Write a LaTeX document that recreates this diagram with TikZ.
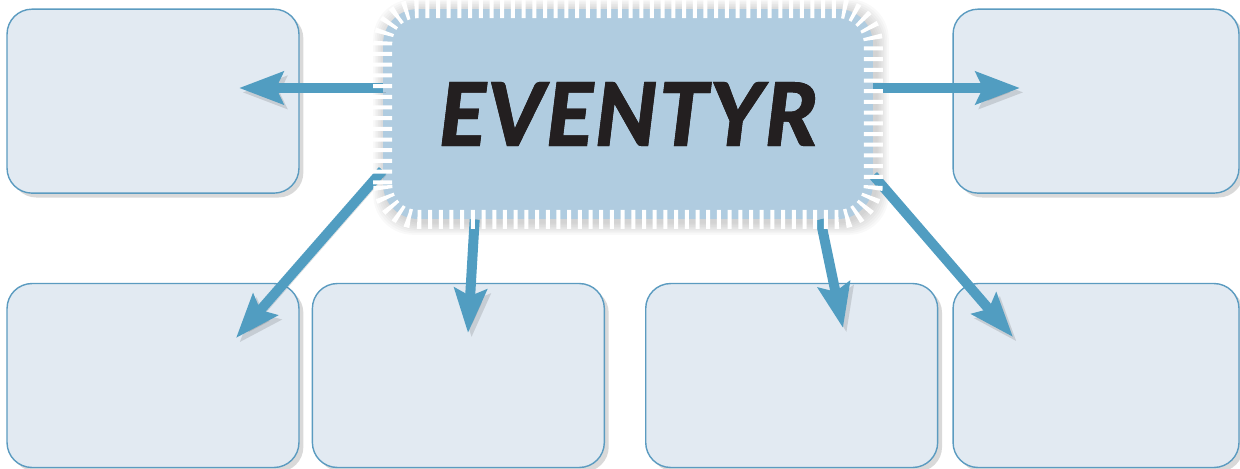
\documentclass[tikz,border=0pt]{standalone}
\usepackage{fontspec}
\newfontfamily\headfont{Lato}[BoldItalicFeatures={FakeBold=2.2, LetterSpace=3}]
\usetikzlibrary{positioning,arrows.meta,shadows,backgrounds}
\definecolor{cardBG}{HTML}{E2EAF2}
\definecolor{cardBorder}{HTML}{5B9BC0}
\definecolor{hubBG}{HTML}{B0CCE0}
\definecolor{arrowBlue}{HTML}{519DC1}
\definecolor{inkBlack}{HTML}{231F20}

\begin{document}
\begin{tikzpicture}[
  x=0.02cm, y=0.02cm,
  card/.style={draw=cardBorder, fill=cardBG, line width=0.8pt, rounded corners=0.5cm,
    minimum width=5.84cm, minimum height=3.68cm, inner sep=0pt,
    drop shadow={shadow xshift=2.5pt, shadow yshift=-2.5pt, opacity=0.15, fill=black}},
  hub/.style={fill=hubBG, rounded corners=0.7cm, minimum width=9.8cm, minimum height=4.2cm,
    inner sep=0pt, text=inkBlack, font=\headfont\bfseries\itshape\fontsize{49}{52}\selectfont},
  hubticks/.style={draw=white, line width=0.38cm, dash pattern=on 0.08cm off 0.134cm},
  link/.style={-{Stealth[length=0.88cm, width=0.64cm, inset=0.14cm]}, line width=0.2cm, arrowBlue,
    preaction={draw=black, opacity=0.12, transform canvas={shift={(2pt,-2.5pt)}}}},
]
\useasboundingbox (0,0) rectangle (1240,468);

% bottom row of cards
\node[card] (b1) at (153,92.5) {};
\node[card, right=0.24cm of b1] (b2) {};
\node[card, right=0.8cm of b2] (b3) {};
\node[card, minimum width=5.72cm, right=0.28cm of b3] (b4) {};

% top row of cards
\node[card, above=1.78cm of b1] (t1) {};
\node[card, minimum width=5.72cm, above=1.78cm of b4] (t4) {};

% glow behind the hub
\begin{scope}[on background layer]
  \foreach \g in {1,...,8}
    \fill[black, opacity=0.022, rounded corners=0.8cm]
      (383-\g*1.6+3,249-\g*1.6-3) rectangle (873+\g*1.6+3,459+\g*1.6-3);
\end{scope}

% arrow tips
\coordinate (tipL) at (239,380);
\coordinate (tipR) at (1020,380);
\coordinate (tipB1) at (236,130);
\coordinate (tipB2) at (468,135);
\coordinate (tipB3) at (843,140);
\coordinate (tipB4) at (1013,131);

% hub node
\node[hub] (hub) at (628,354) {EVENTYR};

% arrows out of the hub
\draw[link] (hub.west |- tipL) -- (tipL);
\draw[link] (hub.east |- tipR) -- (tipR);
\draw[link] ([yshift=0.98cm]hub.south west) -- (tipB1);
\draw[link] ([xshift=1.84cm]hub.south west) -- (tipB2);
\draw[link] ([xshift=-1.06cm]hub.south east) -- (tipB3);
\draw[link] ([yshift=0.88cm]hub.south east) -- (tipB4);

% white ticks round the hub
\draw[hubticks, rounded corners=0.7cm] (hub.south west) rectangle (hub.north east);
\node[hub, fill=none] at (hub) {EVENTYR};

\end{tikzpicture}
\end{document}
